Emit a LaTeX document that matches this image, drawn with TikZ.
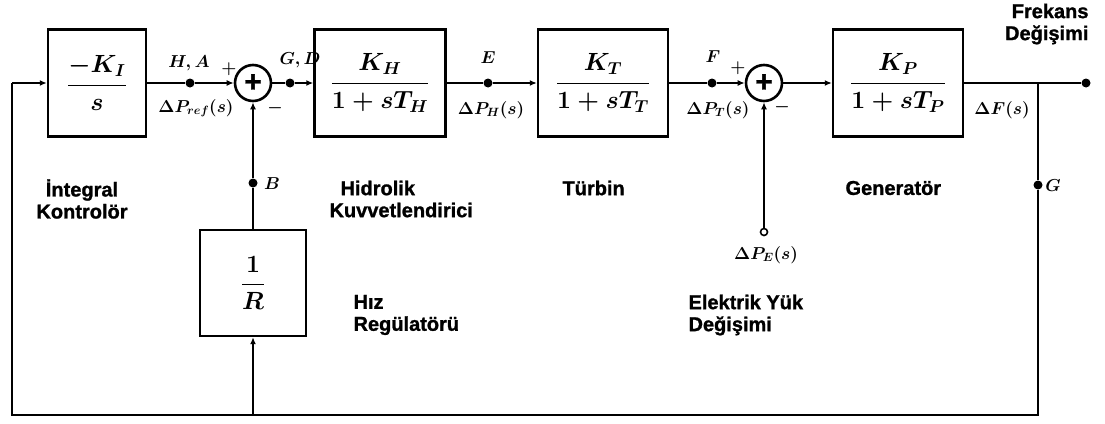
\documentclass[tikz,border=0pt]{standalone}
\usepackage{amsmath}
\usepackage[no-math]{fontspec}
\setmainfont{Liberation Sans}
\newfontfamily\namefont{Liberation Sans Bold}[FakeBold=1.2]
\usetikzlibrary{arrows.meta,positioning}

\begin{document}
\begin{tikzpicture}[
  x=1pt,y=-1pt,
  blk/.style={draw,line width=2.4pt,minimum height=107pt,inner sep=0pt,
    font=\fontsize{23}{26}\selectfont\boldmath},
  sum/.style={draw,circle,line width=2.6pt,minimum size=36pt,inner sep=0pt,
    font=\fontsize{30}{30}\selectfont\namefont},
  a/.style={-{Latex[length=7pt,width=6pt]},line width=2.4pt},
  ln/.style={line width=2.4pt},
  dot/.style={circle,fill,inner sep=0pt,minimum size=9pt},
  sig/.style={font=\fontsize{18}{18}\selectfont\boldmath,inner sep=1pt},
  txt/.style={font=\fontsize{20}{22}\selectfont\namefont,align=left}
]
  \useasboundingbox (0,0) rectangle (1105,423);

  % blocks and summing points
  \node[blk,minimum width=98pt] (int) at (97,83) {$\dfrac{-K_I}{s}$};
  \node[sum] (s1) at (253,83) {+};
  \node[blk,minimum width=131pt] (hyd) at (380,83) {$\dfrac{K_H}{1+sT_H}$};
  \node[blk,minimum width=130pt] (tur) at (603,83) {$\dfrac{K_T}{1+sT_T}$};
  \node[sum] (s2) at (764,83) {+};
  \node[blk,minimum width=130pt] (gen) at (898,83) {$\dfrac{K_P}{1+sT_P}$};
  \node[blk,minimum width=106pt,minimum height=106pt] (reg) at (253,283) {$\dfrac{1}{R}$};

  % signal points
  \node[dot] (ha) at (190,83) {};
  \node[dot] (gd) at (290,83) {};
  \node[dot] (e) at (488,83) {};
  \node[dot] (f) at (712,83) {};
  \node[dot] (b) at (253,183) {};
  \node[dot] (g) at (1038,185) {};
  \node[dot] (out) at (1086,83) {};
  \node[draw,circle,fill=white,line width=1.6pt,inner sep=0pt,minimum size=7pt] (pe) at (764,232) {};
  \coordinate (br) at (1038,83);
  \coordinate (c1) at (1038,415);
  \coordinate (c2) at (12,415);
  \coordinate (c3) at (12,83);
  \coordinate (c4) at (253,415);

  % connectors
  \draw[ln] (int) -- (ha);
  \draw[a] (ha) -- (s1);
  \draw[ln] (s1) -- (gd);
  \draw[a] (gd) -- (hyd);
  \draw[ln] (hyd) -- (e);
  \draw[a] (e) -- (tur);
  \draw[ln] (tur) -- (f);
  \draw[a] (f) -- (s2);
  \draw[a] (s2) -- (gen);
  \draw[ln] (gen) -- (out);
  \draw[ln] (br) -- (g) -- (c1) -- (c2) -- (c3);
  \draw[a] (c3) -- (int);
  \draw[a] (c4) -- (reg);
  \draw[ln] (reg) -- (b);
  \draw[a] (b) -- (s1);
  \draw[a] (pe) -- (s2);

  % signal labels
  \node[sig] (lha) at (189,63) {$H,A$};
  \node[sig] (p1) at (229,69) {$+$};
  \node[sig] (lref) at (196,108) {$\Delta P_{ref}(s)$};
  \node[sig] (m1) at (275,108) {$-$};
  \node[sig] (lgd) at (300,60) {$G,D$};
  \node[sig] (le) at (488,58) {$E$};
  \node[sig] (lh) at (491,110) {$\Delta P_H(s)$};
  \node[sig] (lf) at (713,57) {$F$};
  \node[sig] (p2) at (738,68) {$+$};
  \node[sig] (lt) at (718,110) {$\Delta P_T(s)$};
  \node[sig] (m2) at (782,107) {$-$};
  \node[sig] (ldf) at (1002,110) {$\Delta F(s)$};
  \node[sig] (lb) at (272,184) {$B$};
  \node[sig] (lg) at (1053,186) {$G$};
  \node[sig] (lpe) at (766,255) {$\Delta P_E(s)$};

  % block names
  \node[txt,align=center] (nint) at (82,199) {İntegral\\Kontrolör};
  \node[txt,anchor=west] (nhyd) at (326,199) {\hspace*{11pt}Hidrolik\\Kuvvetlendirici};
  \node[txt,anchor=west] (ntur) at (559,188) {Türbin};
  \node[txt,anchor=west] (ngen) at (842,188) {Generatör};
  \node[txt,anchor=west] (nreg) at (350,315) {Hız\\Regülatörü};
  \node[txt,anchor=west] (nyuk) at (685,315) {Elektrik Yük\\Değişimi};
  \node[txt,align=right,anchor=east] (nfr) at (1092,24) {Frekans\\Değişimi};
\end{tikzpicture}
\end{document}
